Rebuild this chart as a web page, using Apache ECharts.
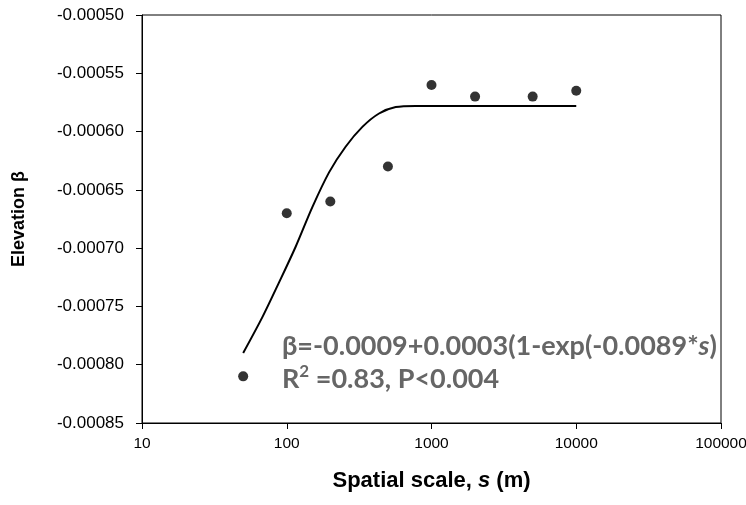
<!DOCTYPE html>
<html>
<head>
<meta charset="utf-8">
<script src="https://cdn.jsdelivr.net/npm/echarts@6/dist/echarts.min.js"></script>
<style>html,body{margin:0;padding:0;background:#fff}#c{width:746px;height:505px}</style>
</head>
<body>
<div id="c"></div>
<script>
// Observed data points
const scales = [50, 100, 200, 500, 1000, 2000, 5000, 10000];
const betas = [-0.00081, -0.00067, -0.00066, -0.00063, -0.00056, -0.00057, -0.00057, -0.000565];
// Fitted curve
const curveX = [50, 68, 88, 115, 150, 196, 255, 333, 434, 566, 777, 1320, 10000];
const curveY = [-0.00079, -0.000759, -0.00073, -0.000699, -0.000665, -0.000635, -0.000613, -0.000596, -0.0005845, -0.000579, -0.000578, -0.000578, -0.000578];
// Axis ticks
const xTicks = [10, 100, 1000, 10000, 100000];
const yMin = -0.00085, yMax = -0.0005, yStep = 0.00005;

const chart = echarts.init(document.getElementById('c'), null, {renderer: 'canvas'});
const labelFamily = 'Liberation Sans, Arial';
chart.setOption({
  animation: false,
  grid: {left: 142, right: 25, top: 15, bottom: 82, containLabel: false, outerBoundsMode: 'none',
         show: true, borderColor: '#000', borderWidth: 1, backgroundColor: 'transparent'},
  xAxis: {
    type: 'log', logBase: 10, min: xTicks[0], max: xTicks[xTicks.length - 1],
    axisLine: {show: true, onZero: false, lineStyle: {color: '#000', width: 1}},
    axisTick: {show: true, inside: false, length: 6, lineStyle: {color: '#000'}},
    minorTick: {show: false},
    splitLine: {show: false},
    axisLabel: {margin: 13, color: '#000', fontFamily: labelFamily, fontSize: 15.5, formatter: v => String(Math.round(v))},
    name: '{b|Spatial scale, }{i|s}{b| (m)}',
    nameLocation: 'middle', nameGap: 47,
    nameTextStyle: {rich: {
      b: {fontFamily: labelFamily, fontWeight: 'bold', fontSize: 22, color: '#000'},
      i: {fontFamily: labelFamily, fontWeight: 'bold', fontStyle: 'italic', fontSize: 22, color: '#000'}
    }}
  },
  yAxis: {
    type: 'value', min: yMin, max: yMax, interval: yStep,
    axisLine: {show: true, onZero: false, lineStyle: {color: '#000', width: 1}},
    axisTick: {show: true, inside: false, length: 6, lineStyle: {color: '#000'}},
    splitLine: {show: false},
    axisLabel: {margin: 18, color: '#000', fontFamily: labelFamily, fontSize: 17, formatter: v => v.toFixed(5)},
    name: 'Elevation β', nameLocation: 'middle', nameGap: 114,
    nameTextStyle: {fontFamily: labelFamily, fontWeight: 'bold', fontSize: 18, color: '#000'}
  },
  series: [
    {
      type: 'line', data: curveX.map((x, i) => [x, curveY[i]]),
      showSymbol: false, smooth: 0.3, lineStyle: {color: '#000', width: 2}, z: 2
    },
    {
      type: 'scatter', data: scales.map((x, i) => [x, betas[i]]),
      symbol: 'circle', symbolSize: 10, itemStyle: {color: '#000'}, z: 3
    }
  ],
  graphic: [
    {
      type: 'text', left: 282, top: 333,
      style: {
        text: '{n|β=-0.0009+0.0003(1-exp(-0.0089*}{it|s}{n|)}\n{n|R}{sup|2}{n| =0.83, P<0.004}',
        rich: {
          n: {fontFamily: 'Lato, Open Sans', fontWeight: 'bold', fontSize: 27, fill: '#666666', lineHeight: 33},
          it: {fontFamily: 'Lato, Open Sans', fontWeight: 'bold', fontStyle: 'italic', fontSize: 27, fill: '#666666', lineHeight: 33},
          sup: {fontFamily: 'Lato, Open Sans', fontWeight: 'bold', fontSize: 17, fill: '#666666', lineHeight: 33, verticalAlign: 'top', padding: [0, 0, 10, 0]}
        }
      }
    }
  ]
});
</script>
</body>
</html>
